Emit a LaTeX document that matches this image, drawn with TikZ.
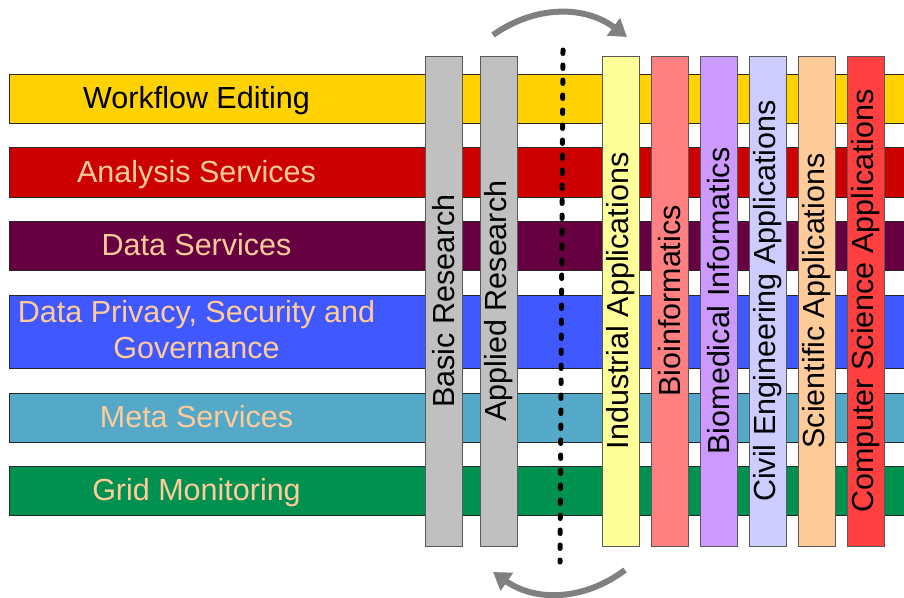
\documentclass[tikz,border=0pt]{standalone}
\usepackage{fontspec}
\setsansfont{Liberation Sans}
\usetikzlibrary{arrows.meta}

\definecolor{wfYellow}{HTML}{FFD200}
\definecolor{anRed}{HTML}{CC0000}
\definecolor{dsPlum}{HTML}{660040}
\definecolor{dpBlue}{HTML}{3F58FF}
\definecolor{msTeal}{HTML}{54A8C8}
\definecolor{gmGreen}{HTML}{009050}
\definecolor{peachText}{HTML}{FFCC99}
\definecolor{colGray}{HTML}{C0C0C0}
\definecolor{colYellow}{HTML}{FFFF99}
\definecolor{colSalmon}{HTML}{FF8080}
\definecolor{colViolet}{HTML}{CC99FF}
\definecolor{colLavender}{HTML}{CCCCFF}
\definecolor{colPeach}{HTML}{FFCC99}
\definecolor{colRed}{HTML}{FF4040}
\definecolor{arrowGray}{HTML}{808080}
\tikzset{
  font=\sffamily\fontsize{30.5}{36}\selectfont,
  layer/.style={
    draw=black!85,
    line width=1pt,
    inner sep=0pt,
    outer sep=0pt,
    anchor=north west,
    minimum width=905
  },
  layertext/.style={text=peachText, anchor=base, inner sep=0pt},
  column/.style={
    draw=black!65,
    line width=1pt,
    rotate=90,
    minimum width=490,
    minimum height=37,
    inner sep=0pt,
    text=black
  },
  splitline/.style={line width=5pt, line cap=round, dash pattern=on 3.5pt off 11.5pt},
  turnarrow/.style={-{Triangle[length=17pt,width=21pt]}, line width=6pt, draw=arrowGray}
}

\begin{document}
\begin{tikzpicture}[x=1pt,y=-1pt]

\useasboundingbox (0,0) rectangle (904,597);
\clip (0,0) rectangle (904,597);

% --------------------------------------------------------------------------
% Horizontal service layers
% --------------------------------------------------------------------------
\node[layer, fill=wfYellow, minimum height=49] (workflow) at (9,74) {};
\node[layer, fill=anRed, minimum height=50] (analysis) at (9,147) {};
\node[layer, fill=dsPlum, minimum height=49] (data) at (9,221) {};
\node[layer, fill=dpBlue, minimum height=73] (privacy) at (9,295) {};
\node[layer, fill=msTeal, minimum height=49] (meta) at (9,393) {};
\node[layer, fill=gmGreen, minimum height=49] (grid) at (9,466) {};

\node[layertext, text=black] (workflowText) at (196.5,108) {Workflow Editing};
\node[layertext] (analysisText) at (196.5,182) {Analysis Services};
\node[layertext] (dataText) at (196.5,255) {Data Services};
\node[layertext, anchor=center, align=center] (privacyText) at (196.5,330)
  {Data Privacy, Security and\\Governance};
\node[layertext] (metaText) at (196.5,427) {Meta Services};
\node[layertext] (gridText) at (196.5,500) {Grid Monitoring};

% --------------------------------------------------------------------------
% Research columns
% --------------------------------------------------------------------------
\node[column, fill=colGray] (basic) at (443.5,301) {Basic Research};
\node[column, fill=colGray] (applied) at (498.5,301) {Applied Research};

% --------------------------------------------------------------------------
% Application columns
% --------------------------------------------------------------------------
\node[column, fill=colYellow] (industrial) at (620.5,301) {Industrial Applications};
\node[column, fill=colSalmon] (bioinf) at (670,301) {Bioinformatics};
\node[column, fill=colViolet] (biomed) at (719,301) {Biomedical Informatics};
\node[column, fill=colLavender] (civil) at (768,301) {Civil Engineering Applications};
\node[column, fill=colPeach] (scientific) at (817,301) {Scientific Applications};
\node[column, fill=colRed] (compsci) at (865.5,301) {Computer Science Applications};

% --------------------------------------------------------------------------
% Divider and transfer arrows
% --------------------------------------------------------------------------
\coordinate (splitTop) at (563,50);
\coordinate (splitBottom) at (560,562);
\draw[splitline] (splitTop) -- (splitBottom);

\coordinate (fwdStart) at (493,35);
\coordinate (fwdEnd) at (627,37);
\coordinate (backStart) at (625,570);
\coordinate (backEnd) at (493,572);

\draw[turnarrow] (fwdStart) to[bend left=36] (fwdEnd);
\draw[turnarrow] (backStart) to[bend left=36] (backEnd);

\end{tikzpicture}
\end{document}
